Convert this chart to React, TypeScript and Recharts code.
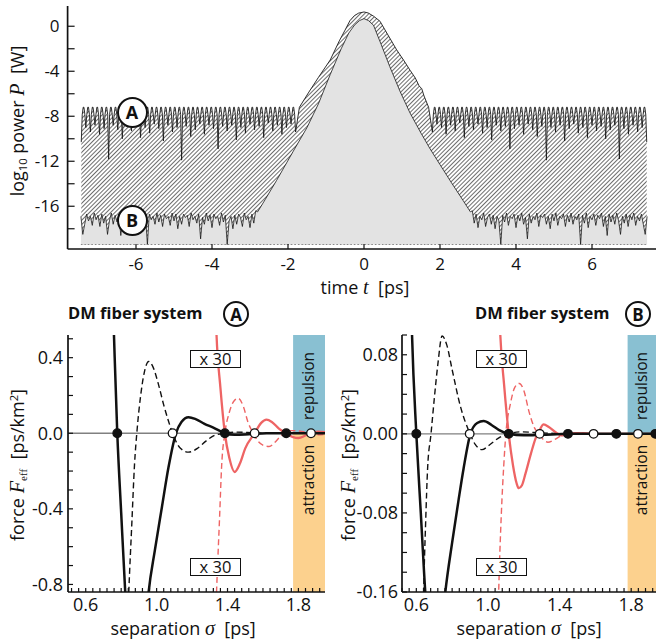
import React from 'react';
import { ComposedChart, Area, Line, Scatter, XAxis, YAxis, ReferenceLine, ReferenceArea } from 'recharts';

const FONT = '"Open Sans", "Noto Sans", sans-serif';
const SERIF = '"Liberation Serif", "DejaVu Serif", serif';
const BLUE = '#89c0d2';
const ORANGE = '#fcd18e';
const RED = '#ee6464';

// ---------- top panel: log10 power vs time ----------
const tTicks = [-6, -4, -2, 0, 2, 4, 6];
const logPTicks = [-18, -16, -14, -12, -10, -8, -6, -4, -2, 0];
const logPLabels = [-16, -12, -8, -4, 0];

// system A, central pulse (t [ps], log10 P)
const pulseA: [number, number][] = [
  [-1.7, -7.2], [-1.45, -5.85], [-1.2, -4.55], [-0.89, -3.0], [-0.65, -1.3], [-0.5, -0.35],
  [-0.37, 0.5], [-0.25, 0.95], [-0.14, 1.17], [0, 1.27], [0.11, 1.18], [0.25, 0.9], [0.42, 0.45],
  [0.6, -0.6], [0.86, -2.1], [1.05, -3.05], [1.21, -3.9], [1.35, -4.6], [1.45, -5.3], [1.52, -5.55],
  [1.58, -6.2], [1.7, -7.2],
];
// system A, ripple in the wings (mirror symmetric): one dip per ripple
const rippleStart = 1.8;
const rippleStep = 0.12;
const rippleTop = -7.2;
const rippleDips = [
  -9.4, -8.7, -9.0, -9.6, -8.8, -9.3, -8.6, -9.9, -8.9, -9.2, -8.7, -9.5, -9.0, -10.1, -8.8, -9.3,
  -8.9, -10.9, -9.1, -8.8, -9.6, -8.7, -9.2, -9.8, -8.9, -11.9, -9.0, -9.4, -8.8, -10.2, -9.1, -8.7,
  -9.5, -9.0, -9.9, -8.8, -9.3, -8.9, -10.0, -9.2, -8.8, -11.8, -9.1, -9.6, -8.8, -9.4, -9.0, -10.3,
];
// arch between two dips: offset in ps, drop below rippleTop
const archOffset = [0.025, 0.05, 0.07, 0.095];
const archDrop = [0.65, 0, 0, 0.65];

// system B, central pulse
const pulseB: [number, number][] = [
  [-2.8, -16.5], [-2.6, -15.4], [-2.3, -13.7], [-1.86, -11.1], [-1.5, -9.0], [-1.2, -6.9],
  [-0.89, -4.3], [-0.6, -2.0], [-0.4, -0.6], [-0.25, 0.1], [-0.12, 0.5], [0, 0.68], [0.12, 0.5],
  [0.25, 0.09], [0.45, -1.6], [0.68, -3.6], [0.95, -5.8], [1.21, -7.7], [1.5, -9.5], [1.74, -10.9],
  [2.0, -12.3], [2.3, -13.9], [2.61, -15.5], [2.8, -16.5],
];
// system B, noise floor in the wings (mirror symmetric)
const noiseStart = 2.85;
const noiseStep = 0.05;
const noiseB = [
  -16.4, -17.5, -16.7, -17.9, -16.9, -17.2, -16.6, -17.8, -17.0, -16.7, -17.6, -16.8, -18.0, -16.9,
  -17.3, -19.4, -16.8, -17.4, -16.6, -17.7, -16.9, -17.1, -16.7, -17.9, -16.8, -17.3, -16.6, -17.6,
  -17.0, -18.9, -16.7, -17.5, -16.9, -17.2, -16.6, -17.8, -16.8, -17.0, -16.7, -17.6, -16.9, -18.0,
  -16.7, -17.3, -16.6, -17.7, -16.9, -17.1, -16.7, -17.8, -16.8, -17.4, -16.6, -17.6, -16.9, -17.2,
  -16.7, -19.4, -16.8, -17.5, -16.6, -17.9, -16.9, -17.2, -16.7, -17.7, -16.8, -17.1, -16.6, -17.8,
  -16.9, -18.6, -16.7, -17.4, -16.8, -17.6, -16.6, -17.3, -18.5, -16.9, -17.5, -16.7, -17.8, -16.8,
  -17.2, -16.6, -17.7, -16.9, -17.3, -16.7, -17.6, -18.5, -16.9,
];
const floorLevel = -19.4;

type TP = { t: number; v: number };
const mirror = (pts: TP[]) => pts.map((p) => ({ t: -p.t, v: p.v })).reverse();

const wingA: TP[] = [];
rippleDips.forEach((d, k) => {
  const t0 = rippleStart + k * rippleStep;
  wingA.push({ t: t0, v: d });
  if (k < rippleDips.length - 1) archOffset.forEach((o, i) => wingA.push({ t: t0 + o, v: rippleTop - archDrop[i] }));
});
const seriesA: TP[] = [...mirror(wingA), ...pulseA.map(([t, v]) => ({ t, v })), ...wingA];

const wingB: TP[] = noiseB.map((v, j) => ({ t: noiseStart + j * noiseStep, v }));
const seriesB: TP[] = [...mirror(wingB), ...pulseB.map(([t, v]) => ({ t, v })), ...wingB];

// ---------- bottom panels: force vs separation ----------
type P = [number, number];

const solidA: P[] = [
  [0.72, 1.6], [0.745, 0.95], [0.76, 0.5], [0.778, 0], [0.8, -0.42], [0.824, -0.86], [0.85, -1.25],
  [0.885, -1.45], [0.92, -1.25], [0.955, -0.84], [0.99, -0.62], [1.03, -0.39], [1.067, -0.18],
  [1.109, 0], [1.14, 0.06], [1.18, 0.085], [1.22, 0.075], [1.27, 0.05], [1.32, 0.03], [1.385, 0],
  [1.44, -0.008], [1.52, -0.005], [1.62, 0], [1.95, 0],
];
const dashedA: P[] = [
  [0.81, -1.9], [0.83, -1.2], [0.843, -0.84], [0.86, -0.48], [0.875, -0.17], [0.89, 0.02], [0.91, 0.2],
  [0.93, 0.32], [0.955, 0.38], [0.98, 0.35], [1.01, 0.26], [1.04, 0.15], [1.065, 0.07], [1.09, 0],
  [1.13, -0.075], [1.18, -0.1], [1.23, -0.08], [1.28, -0.04], [1.33, -0.01], [1.385, 0], [1.45, 0.006],
  [1.55, 0.002], [1.65, 0], [1.95, 0],
];
const redSolidA: P[] = [
  [1.31, 1.5], [1.338, 0.52], [1.36, 0.24], [1.385, 0], [1.41, -0.13], [1.44, -0.205], [1.47, -0.16],
  [1.5, -0.08], [1.553, 0], [1.59, 0.055], [1.62, 0.072], [1.65, 0.06], [1.69, 0.025], [1.731, 0],
  [1.77, -0.02], [1.8, -0.025], [1.84, -0.012], [1.871, 0], [1.91, 0.008], [1.95, 0.006],
];
const redDashedA: P[] = [
  [1.3, -2.2], [1.325, -1.2], [1.338, -0.84], [1.355, -0.45], [1.367, -0.17], [1.385, 0], [1.41, 0.11],
  [1.44, 0.175], [1.46, 0.185], [1.49, 0.14], [1.515, 0.06], [1.545, 0], [1.575, -0.045], [1.605, -0.065],
  [1.635, -0.07], [1.665, -0.05], [1.695, -0.02], [1.72, 0], [1.76, 0.014], [1.8, 0.012], [1.87, 0],
  [1.91, -0.008], [1.95, -0.006],
];
const stableA = [0.778, 1.385, 1.731];
const unstableA = [1.09, 1.553, 1.871];

const solidB: P[] = [
  [0.55, 0.35], [0.565, 0.18], [0.576, 0.1], [0.6, 0], [0.625, -0.08], [0.65, -0.16], [0.68, -0.22],
  [0.71, -0.24], [0.735, -0.21], [0.762, -0.16], [0.8, -0.11], [0.835, -0.068], [0.864, -0.035],
  [0.902, 0], [0.94, 0.011], [0.976, 0.013], [1.02, 0.009], [1.06, 0.004], [1.116, 0], [1.2, -0.0015],
  [1.3, -0.001], [1.45, 0], [2.0, 0],
];
const dashedB: P[] = [
  [0.62, -0.45], [0.641, -0.16], [0.652, -0.09], [0.663, -0.035], [0.682, 0], [0.7, 0.035], [0.72, 0.07],
  [0.744, 0.099], [0.77, 0.09], [0.8, 0.065], [0.846, 0.028], [0.9, 0], [0.93, -0.011], [0.967, -0.016],
  [1.01, -0.011], [1.07, -0.003], [1.116, 0], [1.18, 0.002], [1.3, 0.001], [1.45, 0], [2.0, 0],
];
const redSolidB: P[] = [
  [1.05, 0.2], [1.069, 0.1], [1.09, 0.05], [1.116, 0], [1.14, -0.032], [1.16, -0.05], [1.172, -0.055],
  [1.19, -0.052], [1.21, -0.04], [1.24, -0.02], [1.265, -0.005], [1.289, 0.004], [1.311, 0.0095],
  [1.34, 0.007], [1.38, 0.0015], [1.41, -0.0015], [1.447, 0], [1.5, 0.0008], [1.6, 0], [2.0, 0],
];
const redDashedB: P[] = [
  [1.04, -0.35], [1.06, -0.16], [1.075, -0.08], [1.088, -0.033], [1.1, 0], [1.125, 0.03], [1.15, 0.047],
  [1.175, 0.051], [1.2, 0.044], [1.23, 0.022], [1.26, 0.006], [1.285, 0], [1.31, -0.006], [1.335, -0.0085],
  [1.37, -0.006], [1.41, -0.002], [1.447, 0], [1.5, 0.001], [1.59, 0], [2.0, 0],
];
const stableB = [0.6, 1.116, 1.447, 1.717, 1.935];
const unstableB = [0.898, 1.289, 1.59, 1.838];

const sepMajor = [0.6, 1.0, 1.4, 1.8];
const forceMajorA = [0.4, 0, -0.4, -0.8];
const forceMajorB = [0.08, 0, -0.08, -0.16];

// ---------- helpers ----------
const axisStroke = { stroke: '#111', strokeWidth: 1.7 };
const tickStroke = { stroke: '#111', strokeWidth: 1.2 };

const stepTicks = (lo: number, hi: number, step: number) => {
  const out: number[] = [];
  for (let i = Math.ceil(lo / step - 1e-6); i * step <= hi + 1e-9; i++) out.push(Math.round(i * step * 1e4) / 1e4);
  return out;
};

const makeTick = (majors: number[], fmt: (v: number) => string, side: 'bottom' | 'left', size: number) => (p: any) => {
  const v = p.payload.value;
  if (!majors.some((m) => Math.abs(m - v) < 1e-6)) return <g />;
  return (
    <text x={p.x} y={p.y} dy={side === 'bottom' ? '0.71em' : '0.355em'} textAnchor={side === 'bottom' ? 'middle' : 'end'}
      fontSize={size} fontFamily={FONT} fill="#111">{fmt(v)}</text>
  );
};

const dotShape = (fill: string) => (p: any) => (
  <circle cx={p.cx} cy={p.cy} r={4.3} fill={fill} stroke="#111" strokeWidth={1.3} />
);

const PowerPanel = () => (
  <div style={{ position: 'absolute', left: 0, top: 0 }}>
    <ComposedChart width={680} height={300} margin={{ top: 6, right: 19.6, bottom: 21, left: 0 }}>
      <defs>
        <pattern id="hatch" patternUnits="userSpaceOnUse" width={3} height={3} patternTransform="rotate(45)">
          <rect width={3} height={3} fill="#fff" />
          <line x1={0} y1={0} x2={0} y2={3} stroke="#151515" strokeWidth={1.25} />
        </pattern>
      </defs>
      <XAxis dataKey="t" type="number" domain={[-7.8, 7.8]} ticks={tTicks} allowDataOverflow interval={0}
        tickSize={-5} tickMargin={14} height={30} axisLine={axisStroke} tickLine={tickStroke}
        tick={makeTick(tTicks, (v) => String(v), 'bottom', 17)} />
      <XAxis xAxisId="top" orientation="top" type="number" domain={[-7.8, 7.8]} height={0} tick={false}
        tickLine={false} axisLine={axisStroke} />
      <YAxis type="number" domain={[-19.8, 1.8]} ticks={logPTicks} allowDataOverflow interval={0} width={67.6}
        tickSize={-7} tickMargin={15} axisLine={axisStroke} tickLine={tickStroke}
        tick={makeTick(logPLabels, (v) => String(v), 'left', 17)} />
      <Area data={seriesA} dataKey="v" type="linear" baseValue={floorLevel} fill="url(#hatch)" fillOpacity={1}
        stroke="#1a1a1a" strokeWidth={0.9} dot={false} activeDot={false} isAnimationActive={false} />
      <Area data={seriesB} dataKey="v" type="linear" baseValue={floorLevel} fill="#e3e3e3" fillOpacity={1}
        stroke="#111" strokeWidth={0.75} dot={false} activeDot={false} isAnimationActive={false} />
      <ReferenceLine segment={[{ x: -7.45, y: floorLevel }, { x: 7.45, y: floorLevel }]} stroke="#888"
        strokeWidth={1} strokeDasharray="1.5 2" />
    </ComposedChart>
  </div>
);

type PanelProps = {
  x0: number; width: number; marginRight: number; yAxisWidth: number; tickMarginY: number;
  xDomain: [number, number]; yDomain: [number, number]; yStep: number; yMajor: number[]; yDigits: number;
  solid: P[]; dashed: P[]; redSolid: P[]; redDashed: P[]; stable: number[]; unstable: number[]; bandFrom: number;
};

const toPts = (a: P[]) => a.map(([s, v]) => ({ s, v }));

const ForcePanel = (q: PanelProps) => {
  const xTicks = stepTicks(q.xDomain[0], q.xDomain[1], 0.04);
  const yTicks = stepTicks(q.yDomain[0], q.yDomain[1], q.yStep);
  const lineCommon = { dataKey: 'v', type: 'monotone' as const, dot: false, activeDot: false, isAnimationActive: false };
  return (
    <div style={{ position: 'absolute', left: q.x0, top: 300 }}>
      <ComposedChart width={q.width} height={344} margin={{ top: 35, right: q.marginRight, bottom: 22, left: 0 }}>
        <XAxis dataKey="s" type="number" domain={q.xDomain} ticks={xTicks} allowDataOverflow interval={0}
          tickSize={-4} tickMargin={10} height={30} axisLine={axisStroke} tickLine={tickStroke}
          tick={makeTick(sepMajor, (v) => v.toFixed(1), 'bottom', 18)} />
        <XAxis xAxisId="top" orientation="top" type="number" domain={q.xDomain} ticks={xTicks} allowDataOverflow
          interval={0} tickSize={-4} height={0} tick={false} axisLine={axisStroke} tickLine={tickStroke} />
        <YAxis type="number" domain={q.yDomain} ticks={yTicks} allowDataOverflow interval={0} width={q.yAxisWidth}
          tickSize={-5} tickMargin={q.tickMarginY} axisLine={axisStroke} tickLine={tickStroke}
          tick={makeTick(q.yMajor, (v) => v.toFixed(q.yDigits), 'left', 18)} />
        <YAxis yAxisId="right" orientation="right" type="number" domain={q.yDomain} ticks={yTicks} allowDataOverflow
          interval={0} width={0} tickSize={-5} tick={false} axisLine={axisStroke} tickLine={tickStroke} />
        <ReferenceArea x1={q.bandFrom} x2={q.xDomain[1]} y1={0} y2={q.yDomain[1]} fill={BLUE} fillOpacity={1} stroke="none" />
        <ReferenceArea x1={q.bandFrom} x2={q.xDomain[1]} y1={q.yDomain[0]} y2={0} fill={ORANGE} fillOpacity={1} stroke="none" />
        <ReferenceLine y={0} stroke="#808080" strokeWidth={1.3} />
        <Line data={toPts(q.redDashed)} {...lineCommon} stroke={RED} strokeWidth={1.4} strokeDasharray="6 3.5" />
        <Line data={toPts(q.redSolid)} {...lineCommon} stroke={RED} strokeWidth={2.3} />
        <Line data={toPts(q.dashed)} {...lineCommon} stroke="#111" strokeWidth={1.4} strokeDasharray="6 3.5" />
        <Line data={toPts(q.solid)} {...lineCommon} stroke="#111" strokeWidth={2.5} />
        <Scatter data={q.stable.map((s) => ({ s, v: 0 }))} dataKey="v" shape={dotShape('#111')} isAnimationActive={false} />
        <Scatter data={q.unstable.map((s) => ({ s, v: 0 }))} dataKey="v" shape={dotShape('#fff')} isAnimationActive={false} />
      </ComposedChart>
    </div>
  );
};

// ---------- text overlays ----------
const abs = (x: number, y: number, extra: React.CSSProperties = {}): React.CSSProperties => ({
  position: 'absolute', left: x, top: y, whiteSpace: 'nowrap', lineHeight: 1, ...extra,
});
const centered = (x: number, y: number, size: number, rotate = false, extra: React.CSSProperties = {}) =>
  abs(x, y, { fontSize: size, transform: `translate(-50%, -50%)${rotate ? ' rotate(-90deg)' : ''}`, ...extra });

const Circled = ({ x, y, d, letter, size }: { x: number; y: number; d: number; letter: string; size: number }) => (
  <div style={abs(x - d / 2, y - d / 2, {
    width: d, height: d, boxSizing: 'border-box', border: '2px solid #111', borderRadius: '50%', background: '#fff',
    display: 'flex', alignItems: 'center', justifyContent: 'center', fontWeight: 700, fontSize: size,
  })}>{letter}</div>
);

const Times = ({ x, y }: { x: number; y: number }) => (
  <div style={abs(x, y, {
    width: 51, height: 18, boxSizing: 'border-box', border: '1.3px solid #111', background: '#fff',
    display: 'flex', alignItems: 'center', justifyContent: 'center', fontSize: 16.5,
  })}>x 30</div>
);

const it = (s: string) => <span style={{ fontFamily: SERIF, fontStyle: 'italic', fontSize: '1.12em' }}>{s}</span>;
const sub = (s: string, serif = false) => (
  <span style={{ fontSize: '0.62em', verticalAlign: '-0.3em', lineHeight: 0, fontFamily: serif ? SERIF : undefined }}>{s}</span>
);
const sup = (s: string) => <span style={{ fontSize: '0.62em', verticalAlign: '0.55em', lineHeight: 0 }}>{s}</span>;

const ForceLabel = ({ x }: { x: number }) => (
  <div style={centered(x, 465, 18, true)}>force {it('F')}{sub('eff', true)}&nbsp; [ps/km{sup('2')}]</div>
);
const SepLabel = ({ x }: { x: number }) => (
  <div style={centered(x, 628, 18)}>separation {it('σ')}&nbsp; [ps]</div>
);
const Bands = ({ x }: { x: number }) => (
  <>
    <div style={centered(x, 386, 15.5, true)}>repulsion</div>
    <div style={centered(x, 480, 15.5, true)}>attraction</div>
  </>
);

export default function App() {
  return (
    <div style={{ position: 'absolute', left: 0, top: 0, width: 656, height: 644, overflow: 'hidden', background: '#fff', fontFamily: FONT, color: '#111' }}>
      <PowerPanel />
      <ForcePanel x0={0} width={340} marginRight={15} yAxisWidth={68} tickMarginY={10}
        xDomain={[0.5, 1.95]} yDomain={[-0.84, 0.52]} yStep={0.1} yMajor={forceMajorA} yDigits={1}
        solid={solidA} dashed={dashedA} redSolid={redSolidA} redDashed={redDashedA}
        stable={stableA} unstable={unstableA} bandFrom={1.77} />
      <ForcePanel x0={330} width={350} marginRight={13} yAxisWidth={72} tickMarginY={9}
        xDomain={[0.52, 2.0]} yDomain={[-0.16, 0.1]} yStep={0.02} yMajor={forceMajorB} yDigits={2}
        solid={solidB} dashed={dashedB} redSolid={redSolidB} redDashed={redDashedB}
        stable={stableB} unstable={unstableB} bandFrom={1.78} />

      {/* top panel labels */}
      <div style={centered(17, 121, 18, true)}>log{sub('10')} power {it('P')}&nbsp; [W]</div>
      <div style={centered(365, 287, 18)}>time {it('t')}&nbsp; [ps]</div>
      <Circled x={132} y={112} d={31} letter="A" size={18} />
      <Circled x={132} y={220} d={31} letter="B" size={18} />

      {/* bottom panel labels */}
      <div style={abs(68, 313, { fontSize: 16.5, fontWeight: 700, transform: 'translateY(-50%)' })}>DM fiber system</div>
      <Circled x={236} y={314} d={26} letter="A" size={17} />
      <div style={abs(475, 313, { fontSize: 16.5, fontWeight: 700, transform: 'translateY(-50%)' })}>DM fiber system</div>
      <Circled x={638} y={314} d={26} letter="B" size={17} />
      <ForceLabel x={17} />
      <ForceLabel x={348} />
      <SepLabel x={183} />
      <SepLabel x={529} />
      <Times x={190} y={350} />
      <Times x={190} y={558} />
      <Times x={476} y={350} />
      <Times x={476} y={558} />
      <Bands x={309} />
      <Bands x={642} />
    </div>
  );
}
